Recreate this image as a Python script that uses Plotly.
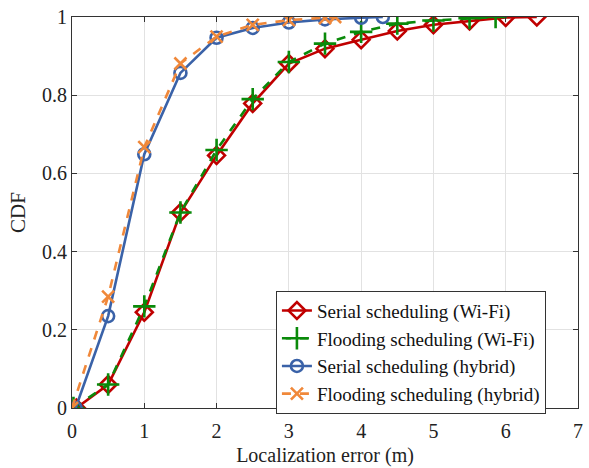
import plotly.graph_objects as go

# Localization error (m) and CDF values per scheduling scheme
serial_wifi_x = [0.06, 0.5, 1.0, 1.5, 2.0, 2.5, 3.0, 3.5, 4.0, 4.5, 5.0, 5.5, 6.0, 6.43]
serial_wifi_y = [0.0, 0.06, 0.245, 0.5, 0.646, 0.779, 0.881, 0.919, 0.942, 0.964, 0.98, 0.99, 0.999, 1.0]

flood_wifi_x = [0.02, 0.5, 1.0, 1.5, 2.0, 2.5, 3.0, 3.5, 4.0, 4.5, 5.0, 5.5, 5.86]
flood_wifi_y = [0.0, 0.06, 0.26, 0.5, 0.66, 0.79, 0.885, 0.932, 0.962, 0.983, 0.991, 0.997, 1.0]

serial_hyb_x = [0.05, 0.5, 1.0, 1.5, 2.0, 2.5, 3.0, 3.5, 4.0, 4.3]
serial_hyb_y = [0.0, 0.235, 0.649, 0.857, 0.947, 0.972, 0.986, 0.994, 0.998, 1.0]

flood_hyb_x = [0.0, 0.5, 1.0, 1.5, 2.0, 2.5, 3.0, 3.5, 3.64]
flood_hyb_y = [0.0, 0.285, 0.667, 0.881, 0.95, 0.98, 0.992, 0.997, 1.0]

x_ticks = [0, 1, 2, 3, 4, 5, 6, 7]
y_ticks = [0, 0.2, 0.4, 0.6, 0.8, 1]
y_tick_text = ["0", "0.2", "0.4", "0.6", "0.8", "1"]

series = [
    ("Serial scheduling (Wi-Fi)", serial_wifi_x, serial_wifi_y, "#c00000", "solid", "diamond-open", 13),
    ("Flooding scheduling (Wi-Fi)", flood_wifi_x, flood_wifi_y, "#0a8a0a", "dash", "cross-thin-open", 16),
    ("Serial scheduling (hybrid)", serial_hyb_x, serial_hyb_y, "#3a62a8", "solid", "circle-open", 12),
    ("Flooding scheduling (hybrid)", flood_hyb_x, flood_hyb_y, "#f0883a", "dash", "x-thin-open", 12),
]

fig = go.Figure()
for name, xs, ys, color, dash, symbol, size in series:
    fig.add_trace(go.Scatter(
        x=xs, y=ys, name=name, mode="lines+markers",
        line=dict(color=color, width=2.6, dash=dash),
        marker=dict(symbol=symbol, size=size, color=color,
                    line=dict(color=color, width=2.6)),
    ))

font_family = "Liberation Serif, Times New Roman, Times, serif"
axis_common = dict(
    showline=True, linecolor="#333333", linewidth=1.2, mirror="allticks",
    ticks="inside", ticklen=5, tickcolor="#333333",
    showgrid=True, gridcolor="#e2e2e2", gridwidth=1, zeroline=False,
    tickfont=dict(family=font_family, size=20, color="#222222"),
)

fig.update_layout(
    width=589, height=468,
    paper_bgcolor="white", plot_bgcolor="white",
    margin=dict(l=72, r=6, t=15, b=60),
    font=dict(family=font_family, color="#222222"),
    xaxis=dict(range=[0, 7], tickvals=x_ticks, ticklabelstandoff=5, **axis_common,
               title=dict(text="Localization error (m)", font=dict(family=font_family, size=20), standoff=6)),
    yaxis=dict(range=[0, 1], tickvals=y_ticks, ticktext=y_tick_text, **axis_common,
               title=dict(text="CDF", font=dict(family=font_family, size=21), standoff=10)),
    legend=dict(
        x=0.403, y=0.30, xanchor="left", yanchor="top",
        bgcolor="white", bordercolor="#333333", borderwidth=1,
        font=dict(family=font_family, size=19, color="#111111"),
        tracegroupgap=0, itemwidth=30,
    ),
)

fig.write_html("out.html")
